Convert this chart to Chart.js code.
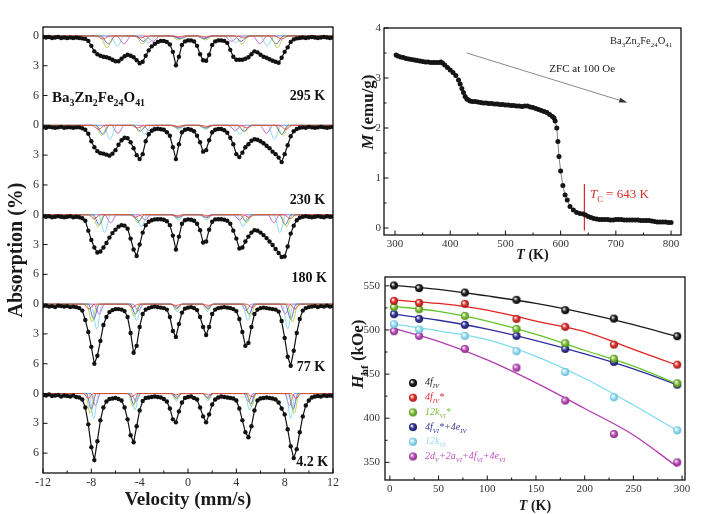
<!DOCTYPE html>
<html><head><meta charset="utf-8"><title>Ba3Zn2Fe24O41</title>
<script src="https://cdn.jsdelivr.net/npm/chart.js@4.4.1/dist/chart.umd.min.js"></script>
<style>
html,body{margin:0;padding:0;background:#fff;}
#wrap{position:relative;width:713px;height:514px;overflow:hidden;background:#fff}
canvas{position:absolute;}
</style></head><body>
<div id="wrap">
<canvas id="spec" width="345" height="514" style="left:0;top:0"></canvas>
<canvas id="mag" width="368" height="262" style="left:345px;top:0"></canvas>
<canvas id="hf" width="368" height="252" style="left:345px;top:262px"></canvas>
</div>
<script>
// ---------------- DATA ----------------
// Mössbauer spectra (absorption %)
const velocity = [-12,-11.75,-11.5,-11.25,-11,-10.75,-10.5,-10.25,-10,-9.75,-9.5,-9.25,-9,-8.75,-8.5,-8.25,-8,-7.75,-7.5,-7.25,-7,-6.75,-6.5,-6.25,-6,-5.75,-5.5,-5.25,-5,-4.75,-4.5,-4.25,-4,-3.75,-3.5,-3.25,-3,-2.75,-2.5,-2.25,-2,-1.75,-1.5,-1.25,-1,-0.75,-0.5,-0.25,0,0.25,0.5,0.75,1,1.25,1.5,1.75,2,2.25,2.5,2.75,3,3.25,3.5,3.75,4,4.25,4.5,4.75,5,5.25,5.5,5.75,6,6.25,6.5,6.75,7,7.25,7.5,7.75,8,8.25,8.5,8.75,9,9.25,9.5,9.75,10,10.25,10.5,10.75,11,11.25,11.5,11.75,12];
const abs295 = [0.10,0.15,0.10,0.20,0.15,0.10,0.20,0.15,0.20,0.15,0.20,0.15,0.20,0.25,0.30,0.50,1.00,1.55,1.85,2.00,2.10,2.15,2.25,2.40,2.55,2.55,2.30,2.05,1.90,2.00,2.15,2.45,2.75,2.60,2.00,1.45,1.05,0.80,0.60,0.50,0.50,0.60,0.85,1.60,2.95,2.10,0.90,0.55,0.45,0.45,0.55,1.00,1.85,2.45,2.50,1.90,0.90,0.55,0.45,0.45,0.50,0.70,1.40,2.10,2.40,2.40,2.40,2.30,2.15,1.85,1.55,1.65,1.90,2.10,2.20,2.35,2.50,2.60,2.70,2.20,1.60,1.15,0.60,0.35,0.25,0.20,0.15,0.20,0.15,0.10,0.15,0.20,0.15,0.10,0.15,0.20,0.15];
const abs230 = [0.20,0.25,0.15,0.20,0.25,0.20,0.15,0.25,0.20,0.20,0.25,0.20,0.20,0.30,0.45,0.85,1.60,2.20,2.60,2.80,2.85,2.95,3.05,2.85,2.50,1.95,1.50,1.25,1.30,1.70,2.30,3.00,3.40,2.90,1.60,0.90,0.55,0.40,0.35,0.40,0.45,0.70,1.05,2.20,3.40,1.90,0.70,0.45,0.37,0.45,0.60,1.05,1.70,2.65,2.50,1.50,0.70,0.45,0.37,0.37,0.50,0.75,1.25,1.90,2.90,3.20,2.75,2.20,1.90,1.55,1.40,1.45,1.60,1.80,2.05,2.30,2.65,2.90,3.25,3.70,2.90,2.00,1.10,0.60,0.37,0.25,0.20,0.25,0.15,0.20,0.25,0.20,0.15,0.20,0.25,0.20,0.15];
const abs180 = [0.15,0.20,0.15,0.25,0.20,0.15,0.20,0.25,0.20,0.15,0.25,0.20,0.25,0.35,0.60,1.60,2.55,3.30,3.80,3.70,3.30,2.85,2.30,1.85,1.50,1.20,1.05,1.10,1.40,2.40,3.50,4.15,3.00,1.80,1.05,0.70,0.55,0.47,0.45,0.45,0.50,0.65,1.05,2.10,3.50,2.20,0.90,0.55,0.47,0.50,0.60,0.90,1.55,2.80,2.70,1.50,0.70,0.47,0.45,0.45,0.50,0.60,0.90,1.60,2.40,3.40,3.30,2.70,2.20,1.80,1.55,1.60,1.80,2.05,2.35,2.70,3.05,3.45,3.85,4.25,4.20,3.20,1.90,1.10,0.55,0.30,0.20,0.15,0.20,0.25,0.20,0.15,0.20,0.25,0.15,0.20,0.20];
const abs77 = [0.20,0.15,0.25,0.20,0.30,0.15,0.20,0.25,0.20,0.30,0.25,0.30,0.40,0.65,1.60,2.80,4.30,6.00,5.20,3.70,2.10,1.30,0.80,0.60,0.50,0.50,0.55,0.70,1.30,2.90,4.90,4.20,2.30,1.00,0.55,0.40,0.30,0.25,0.30,0.35,0.40,0.55,1.30,2.70,3.30,2.00,0.85,0.45,0.35,0.30,0.40,0.60,1.30,2.30,3.10,2.30,1.00,0.55,0.40,0.35,0.30,0.35,0.40,0.50,0.70,1.50,2.80,4.20,3.90,2.30,1.00,0.55,0.40,0.35,0.40,0.45,0.50,0.55,0.75,1.70,3.40,5.30,6.20,4.70,2.90,1.50,0.65,0.40,0.30,0.25,0.20,0.30,0.20,0.25,0.15,0.25,0.20];
const abs4K = [0.15,0.20,0.10,0.25,0.20,0.15,0.30,0.20,0.25,0.30,0.20,0.35,0.40,0.60,1.40,3.10,5.40,6.70,4.80,2.70,1.40,0.80,0.55,0.50,0.45,0.55,0.70,1.40,2.60,4.20,4.90,3.30,1.70,0.75,0.45,0.40,0.35,0.30,0.35,0.40,0.55,0.80,1.50,2.60,2.90,1.80,0.90,0.45,0.35,0.30,0.45,0.60,1.40,2.30,2.90,2.10,1.10,0.60,0.40,0.30,0.35,0.40,0.45,0.50,0.70,1.50,2.70,3.90,4.40,3.30,1.70,0.70,0.50,0.45,0.40,0.45,0.50,0.60,0.90,1.50,2.10,3.60,5.30,6.50,5.60,3.90,2.30,1.20,0.70,0.40,0.30,0.25,0.30,0.20,0.25,0.20,0.25];
const spectraLabels = ['295 K','230 K','180 K','77 K','4.2 K'];

// Fitted sub-spectra: line centres (mm/s) and depths (%) for
// 4f_IV*, 12k_VI*, 4f_VI*+4e_IV, 12k_VI, 2d_V+2a_VI+4f_VI+4e_VI
const centers295 = [[-7.05,-3.95,-0.85,1.55,4.65,7.75],[-6.7,-3.75,-0.8,1.45,4.45,7.4],[-6.6,-3.7,-0.75,1.4,4.4,7.3],[-5.85,-3.25,-0.65,1.35,3.95,6.55],[-5.3,-2.9,-0.55,1.25,3.6,5.95]];
const depths295  = [[0.3,0.2,0.1,0.1,0.2,0.3],[1.2,0.8,0.4,0.4,0.8,1.2],[0.8,0.55,0.25,0.25,0.55,0.8],[1.0,0.7,0.3,0.3,0.7,1.0],[0.8,0.55,0.25,0.25,0.55,0.8]];
const centers230 = [[-7.4,-4.15,-0.9,1.6,4.85,8.1],[-7.15,-4.0,-0.85,1.55,4.7,7.85],[-7.05,-3.95,-0.85,1.5,4.65,7.75],[-6.45,-3.6,-0.75,1.45,4.3,7.15],[-5.8,-3.2,-0.65,1.35,3.9,6.5]];
const depths230  = [[0.4,0.26,0.12,0.12,0.26,0.4],[1.0,0.65,0.3,0.3,0.65,1.0],[0.9,0.6,0.27,0.27,0.6,0.9],[1.4,0.9,0.42,0.42,0.9,1.4],[0.8,0.52,0.24,0.24,0.52,0.8]];
const centers180 = [[-7.75,-4.35,-0.95,1.65,5.05,8.45],[-7.45,-4.15,-0.9,1.6,4.85,8.15],[-7.35,-4.1,-0.85,1.55,4.8,8.05],[-6.9,-3.85,-0.8,1.5,4.55,7.6],[-6.4,-3.55,-0.7,1.4,4.25,7.1]];
const depths180  = [[0.4,0.26,0.12,0.12,0.26,0.4],[1.2,0.8,0.36,0.36,0.8,1.2],[1.0,0.65,0.3,0.3,0.65,1.0],[1.8,1.2,0.55,0.55,1.2,1.8],[0.8,0.52,0.24,0.24,0.52,0.8]];
const centers77  = [[-8.2,-4.6,-1.0,1.7,5.3,8.85],[-7.95,-4.45,-0.95,1.65,5.15,8.65],[-7.8,-4.35,-0.95,1.65,5.05,8.5],[-7.55,-4.25,-0.9,1.6,4.95,8.25],[-7.35,-4.1,-0.9,1.6,4.8,8.05]];
const depths77   = [[0.5,0.33,0.15,0.15,0.33,0.5],[1.8,1.2,0.55,0.55,1.2,1.8],[1.5,1.0,0.45,0.45,1.0,1.5],[2.5,1.65,0.75,0.75,1.65,2.5],[1.0,0.65,0.3,0.3,0.65,1.0]];
const centers4K  = [[-8.25,-4.65,-1.0,1.7,5.3,8.95],[-8.1,-4.55,-1.0,1.7,5.25,8.8],[-8.0,-4.5,-0.95,1.65,5.2,8.7],[-7.8,-4.4,-0.95,1.65,5.1,8.5],[-7.65,-4.3,-0.9,1.6,5.0,8.4]];
const depths4K   = [[0.5,0.33,0.15,0.15,0.33,0.5],[2.0,1.3,0.6,0.6,1.3,2.0],[1.6,1.05,0.5,0.5,1.05,1.6],[2.5,1.65,0.75,0.75,1.65,2.5],[1.2,0.8,0.36,0.36,0.8,1.2]];
const lineHalfWidth = [0.6,0.55,0.5,0.45,0.4];

const velocityTicks = [-12,-8,-4,0,4,8,12];
const velocityTickLabels = ['-12','-8','-4','0','4','8','12'];
const velocityMinor = [-10,-6,-2,2,6,10];
const absTickValues = [0,3,6,9,12,15,18,21,24,27,30,33,36,39,42];
const absTickLabels = ['0','3','6','0','3','6','0','3','6','0','3','6','0','3','6'];

// ZFC magnetisation M(T)
const magT = [302,305,310,315,320,325,330,335,340,345,350,355,360,365,370,375,380,383,386,390,395,400,405,410,415,418,421,424,427,430,433,436,440,445,450,455,460,465,470,475,480,485,490,495,500,505,510,515,520,525,530,535,540,545,550,555,560,565,570,575,580,585,588,590,593,595,597,600,604,608,612,617,623,629,635,641,645,650,655,660,665,670,675,680,685,690,695,700,705,710,715,720,725,730,735,740,745,750,755,760,765,770,775,780,785,790,795,800];
const magM = [3.46,3.44,3.42,3.41,3.39,3.38,3.37,3.36,3.35,3.34,3.33,3.32,3.32,3.31,3.31,3.31,3.31,3.32,3.30,3.26,3.21,3.16,3.11,3.05,2.96,2.88,2.79,2.71,2.63,2.58,2.56,2.54,2.53,2.53,2.52,2.51,2.50,2.50,2.49,2.49,2.48,2.48,2.47,2.47,2.46,2.46,2.45,2.45,2.44,2.44,2.43,2.44,2.44,2.42,2.41,2.39,2.37,2.35,2.33,2.31,2.27,2.23,2.20,2.14,2.00,1.73,1.43,1.14,0.85,0.66,0.56,0.43,0.36,0.31,0.29,0.28,0.26,0.23,0.21,0.19,0.18,0.17,0.17,0.17,0.17,0.16,0.16,0.17,0.17,0.17,0.16,0.16,0.16,0.16,0.16,0.16,0.15,0.15,0.15,0.15,0.14,0.13,0.12,0.12,0.12,0.12,0.11,0.11];
const curieT = 643;
const magTicksT = [300,400,500,600,700,800];
const magMinorT = [350,450,550,650,750];
const magTicksM = [0,1,2,3,4];
const magMinorM = [0.5,1.5,2.5,3.5];

// Hyperfine fields H_hf(T)
const hfT = [4.2,30,77,130,180,230,295];
const hf4fIV     = [550.4,547.4,542.4,534.1,522.4,512.9,492.9];
const hf4fIVs    = [533.0,530.7,529.6,512.6,503.5,483.4,460.7];
const hf12kVIs   = [525.8,523.5,516.0,501.2,485.0,467.5,439.6];
const hf4fVIs4e  = [517.9,512.6,505.8,493.3,478.5,463.8,438.0];
const hf12kVI    = [506.5,500.4,493.3,476.0,452.5,423.8,386.3];
const hfMixed    = [498.6,493.3,478.5,457.3,420.0,382.1,350.0];
const fitT = [3,50,100,150,200,250,295];
const fit4fIV    = [550.5,546,538.5,530,519,506,492.5];
const fit4fIVs   = [534,530,522.5,510,498,478,460];
const fit12kVIs  = [527,521,510,495,477,459,439];
const fit4fVIs4e = [518,511,501,488,473,456,438];
const fit12kVI   = [507,499,489,470,445,415,386];
const fitMixed   = [502,487,466,440,411,381,345];
const hfTicksT = [0,50,100,150,200,250,300];
const hfMinorT = [25,75,125,175,225,275];
const hfTicksH = [350,400,450,500,550];
const hfMinorH = [375,425,475,525];

// ---------------- STYLE / HELPERS ----------------
const FONT = "'Liberation Serif','Times New Roman',Times,serif";
Chart.defaults.font.family = FONT;
Chart.defaults.color = '#333';

function drawRich(ctx, segs, x, y, o) {
  ctx.save();
  ctx.translate(x, y);
  if (o.rotate) ctx.rotate(o.rotate);
  const fontOf = s => `${s.i ? 'italic ' : ''}${o.weight || 'normal'} ${s.s ? o.size * 0.66 : o.size}px ${FONT}`;
  let w = 0;
  for (const s of segs) { ctx.font = fontOf(s); w += ctx.measureText(s.t).width; }
  let cx = o.align === 'center' ? -w / 2 : (o.align === 'right' ? -w : 0);
  ctx.fillStyle = o.color || '#111';
  ctx.textBaseline = 'alphabetic';
  const base = o.size * 0.34;
  for (const s of segs) {
    ctx.font = fontOf(s);
    ctx.fillText(s.t, cx, base + (s.s ? o.size * 0.3 : 0));
    cx += ctx.measureText(s.t).width;
  }
  ctx.restore();
}
function frameAndTicks(ctx, a, xs, ys, xMaj, xMin, yMaj, yMin) {
  ctx.save();
  ctx.strokeStyle = '#111';
  ctx.lineWidth = 1;
  ctx.beginPath();
  xMaj.forEach(v => { const p = xs.getPixelForValue(v); ctx.moveTo(p, a.bottom); ctx.lineTo(p, a.bottom - 4.5); });
  xMin.forEach(v => { const p = xs.getPixelForValue(v); ctx.moveTo(p, a.bottom); ctx.lineTo(p, a.bottom - 2.5); });
  yMaj.forEach(v => { const p = ys.getPixelForValue(v); ctx.moveTo(a.left, p); ctx.lineTo(a.left + 4.5, p); });
  yMin.forEach(v => { const p = ys.getPixelForValue(v); ctx.moveTo(a.left, p); ctx.lineTo(a.left + 2.5, p); });
  ctx.stroke();
  ctx.lineWidth = 1.3;
  ctx.strokeRect(a.left, a.top, a.right - a.left, a.bottom - a.top);
  ctx.restore();
}
function sphere(color, edge, r) {
  const s = Math.ceil(2 * r + 2);
  const c = document.createElement('canvas'); c.width = s; c.height = s;
  const g = c.getContext('2d');
  const m = s / 2;
  const grd = g.createRadialGradient(m - r * 0.35, m - r * 0.35, r * 0.1, m, m, r);
  grd.addColorStop(0, '#ffffff');
  grd.addColorStop(0.45, color);
  grd.addColorStop(1, edge);
  g.fillStyle = grd; g.beginPath(); g.arc(m, m, r, 0, Math.PI * 2); g.fill();
  return c;
}
const baseOpts = { responsive: false, animation: false, events: [], devicePixelRatio: 1,
  plugins: { legend: { display: false }, tooltip: { enabled: false } } };

// ---------------- LEFT: Mössbauer spectra ----------------
const spectra = [abs295, abs230, abs180, abs77, abs4K];
const compCenters = [centers295, centers230, centers180, centers77, centers4K];
const compDepths = [depths295, depths230, depths180, depths77, depths4K];
const compColors = ['#e8322e', '#a8c830', '#3a4fd0', '#6fd3ea', '#c23ec0'];
const stackOffset = [0, 9, 18, 27, 36];
const labelAt = [[11.34, 5.95], [11.34, 16.4], [11.5, 24.3], [11.34, 33.3], [11.6, 42.8]];

function componentPoints(centers, depths, hw, off) {
  const pts = [{ x: -12, y: off }];
  centers.forEach((c, j) => { pts.push({ x: c - hw, y: off }, { x: c, y: off + depths[j] }, { x: c + hw, y: off }); });
  pts.push({ x: 12, y: off });
  return pts;
}
const specSets = [];
spectra.forEach((vals, k) => specSets.push({
  data: velocity.map((v, i) => ({ x: v, y: stackOffset[k] + vals[i] })),
  showLine: true, borderColor: '#111', borderWidth: 1.2, pointRadius: 2.2,
  pointBackgroundColor: '#111', pointBorderWidth: 0
}));
compCenters.forEach((set, k) => set.forEach((cs, c) => specSets.push({
  data: componentPoints(cs, compDepths[k][c], lineHalfWidth[k], stackOffset[k]),
  showLine: true, borderColor: compColors[c], borderWidth: 0.8, pointRadius: 0,
  cubicInterpolationMode: 'monotone'
})));

const specDecor = { id: 'specDecor', afterDraw(chart) {
  const { ctx, chartArea: a, scales: { x, y } } = chart;
  frameAndTicks(ctx, a, x, y, velocityTicks, velocityMinor, absTickValues, []);
  spectraLabels.forEach((lab, k) => drawRich(ctx, [{ t: lab }], x.getPixelForValue(labelAt[k][0]), y.getPixelForValue(labelAt[k][1]), { size: 14, weight: 'bold', align: 'right', color: '#111' }));
  drawRich(ctx, [{ t: 'Ba' }, { t: '3', s: 1 }, { t: 'Zn' }, { t: '2', s: 1 }, { t: 'Fe' }, { t: '24', s: 1 }, { t: 'O' }, { t: '41', s: 1 }],
    x.getPixelForValue(-11.25), y.getPixelForValue(6.1), { size: 15, weight: 'bold', align: 'left', color: '#111' });
} };

new Chart(document.getElementById('spec'), {
  type: 'scatter',
  data: { datasets: specSets },
  options: Object.assign({}, baseOpts, {
    layout: { padding: { left: 0, right: 12, top: 27, bottom: 0 } },
    scales: {
      x: { type: 'linear', min: -12, max: 12,
        grid: { display: false, drawTicks: false }, border: { display: false },
        afterBuildTicks: s => { s.ticks = velocityTicks.map(v => ({ value: v })); },
        afterFit: s => { s.height = 41; },
        ticks: { font: { size: 12 }, color: '#333', padding: 3, maxRotation: 0, autoSkip: false, callback: (v, i) => velocityTickLabels[i] },
        title: { display: true, text: 'Velocity (mm/s)', color: '#1a1a1a', font: { size: 19, weight: 'bold' }, padding: { top: 0, bottom: 3 } } },
      y: { type: 'linear', reverse: true, min: -0.9, max: 44,
        grid: { display: false, drawTicks: false }, border: { display: false },
        afterBuildTicks: s => { s.ticks = absTickValues.map(v => ({ value: v })); },
        afterFit: s => { s.width = 43; },
        ticks: { font: { size: 12 }, color: '#333', padding: 4, autoSkip: false, callback: (v, i) => absTickLabels[i] },
        title: { display: true, text: 'Absorption (%)', color: '#1a1a1a', font: { size: 20, weight: 'bold' }, padding: { top: 5, bottom: 0 } } }
    }
  }),
  plugins: [specDecor]
});

// ---------------- RIGHT TOP: M(T) ----------------
const magDecor = { id: 'magDecor', afterDraw(chart) {
  const { ctx, chartArea: a, scales: { x, y } } = chart;
  frameAndTicks(ctx, a, x, y, magTicksT, magMinorT, magTicksM, magMinorM);
  // arrow
  const x1 = x.getPixelForValue(430), y1 = y.getPixelForValue(3.5);
  const x2 = x.getPixelForValue(717), y2 = y.getPixelForValue(2.52);
  ctx.save();
  ctx.strokeStyle = '#8a8a8a'; ctx.fillStyle = '#333'; ctx.lineWidth = 1;
  ctx.beginPath(); ctx.moveTo(x1, y1); ctx.lineTo(x2, y2); ctx.stroke();
  const ang = Math.atan2(y2 - y1, x2 - x1);
  ctx.beginPath(); ctx.moveTo(x2 + 2, y2 + 2 * Math.tan(ang));
  ctx.lineTo(x2 - 6 * Math.cos(ang) + 2.5 * Math.sin(ang), y2 - 6 * Math.sin(ang) - 2.5 * Math.cos(ang));
  ctx.lineTo(x2 - 6 * Math.cos(ang) - 2.5 * Math.sin(ang), y2 - 6 * Math.sin(ang) + 2.5 * Math.cos(ang));
  ctx.closePath(); ctx.fill();
  ctx.restore();
  drawRich(ctx, [{ t: 'Ba' }, { t: '3', s: 1 }, { t: 'Zn' }, { t: '2', s: 1 }, { t: 'Fe' }, { t: '24', s: 1 }, { t: 'O' }, { t: '41', s: 1 }],
    x.getPixelForValue(802), y.getPixelForValue(3.76), { size: 10.5, align: 'right', color: '#222' });
  drawRich(ctx, [{ t: 'ZFC at 100 Oe' }], x.getPixelForValue(639), y.getPixelForValue(3.2), { size: 11, align: 'center', color: '#222' });
  drawRich(ctx, [{ t: 'T', i: 1 }, { t: 'C', s: 1 }, { t: ' = 643 K' }], x.getPixelForValue(653), y.getPixelForValue(0.68), { size: 13, align: 'left', color: '#d42a2a' });
  drawRich(ctx, [{ t: 'M', i: 1 }, { t: ' (emu/g)' }], 22, 112, { size: 17, weight: 'bold', align: 'center', rotate: -Math.PI / 2, color: '#1a1a1a' });
  drawRich(ctx, [{ t: 'T', i: 1 }, { t: ' (K)' }], (a.left + a.right) / 2, 254, { size: 14, weight: 'bold', align: 'center', color: '#1a1a1a' });
} };

new Chart(document.getElementById('mag'), {
  type: 'scatter',
  data: { datasets: [
    { data: magT.map((t, i) => ({ x: t, y: magM[i] })), showLine: true, borderColor: '#666', borderWidth: 0.8,
      pointRadius: 2.5, pointBackgroundColor: '#151515', pointBorderWidth: 0 },
    { data: [{ x: curieT, y: -0.05 }, { x: curieT, y: 0.88 }], showLine: true, borderColor: '#d42a2a', borderWidth: 1.2, pointRadius: 0 }
  ] },
  options: Object.assign({}, baseOpts, {
    layout: { padding: { left: 0, right: 32, top: 28, bottom: 0 } },
    scales: {
      x: { type: 'linear', min: 280, max: 818,
        grid: { display: false, drawTicks: false }, border: { display: false },
        afterBuildTicks: s => { s.ticks = magTicksT.map(v => ({ value: v })); },
        afterFit: s => { s.height = 27; },
        ticks: { font: { size: 11 }, color: '#333', padding: 3, maxRotation: 0, autoSkip: false, callback: (v, i) => String(magTicksT[i]) } },
      y: { type: 'linear', min: -0.14, max: 4.0,
        grid: { display: false, drawTicks: false }, border: { display: false },
        afterBuildTicks: s => { s.ticks = magTicksM.map(v => ({ value: v })); },
        afterFit: s => { s.width = 39; },
        ticks: { font: { size: 11 }, color: '#333', padding: 3, autoSkip: false, callback: (v, i) => String(magTicksM[i]) } }
    }
  }),
  plugins: [magDecor]
});

// ---------------- RIGHT BOTTOM: H_hf(T) ----------------
const hfSeries = [hf4fIV, hf4fIVs, hf12kVIs, hf4fVIs4e, hf12kVI, hfMixed];
const hfFits = [fit4fIV, fit4fIVs, fit12kVIs, fit4fVIs4e, fit12kVI, fitMixed];
const hfSiteLabels = [
  [{ t: '4f', i: 1 }, { t: 'IV', i: 1, s: 1 }],
  [{ t: '4f', i: 1 }, { t: 'IV', i: 1, s: 1 }, { t: '*', i: 1 }],
  [{ t: '12k', i: 1 }, { t: 'VI', i: 1, s: 1 }, { t: '*', i: 1 }],
  [{ t: '4f', i: 1 }, { t: 'VI', i: 1, s: 1 }, { t: '*+4e', i: 1 }, { t: 'IV', i: 1, s: 1 }],
  [{ t: '12k', i: 1 }, { t: 'VI', i: 1, s: 1 }],
  [{ t: '2d', i: 1 }, { t: 'V', i: 1, s: 1 }, { t: '+2a', i: 1 }, { t: 'VI', i: 1, s: 1 }, { t: '+4f', i: 1 }, { t: 'VI', i: 1, s: 1 }, { t: '+4e', i: 1 }, { t: 'VI', i: 1, s: 1 }]
];
const hfDot = ['#2a2a2a', '#e83a36', '#86c63e', '#3c3ca6', '#a6e2f4', '#c656c4'];
const hfEdge = ['#000000', '#9a1410', '#4a8a18', '#16165e', '#5cb6d4', '#822a80'];
const hfLine = ['#1a1a1a', '#e02222', '#62c42a', '#2e2e9c', '#7fdcef', '#b23cb0'];
const hfText = ['#222222', '#e03030', '#78c038', '#3a3a96', '#9cd8ee', '#c050c0'];
const hfSpheres = hfDot.map((c, k) => sphere(c, hfEdge[k], 4));

const hfSets = [];
hfSeries.forEach((vals, k) => hfSets.push({
  data: hfT.map((t, i) => ({ x: t, y: vals[i] })), showLine: false, pointStyle: hfSpheres[k], pointRadius: 4
}));
hfFits.forEach((vals, k) => hfSets.push({
  data: fitT.map((t, i) => ({ x: t, y: vals[i] })), showLine: true, borderColor: hfLine[k], borderWidth: 1.3,
  pointRadius: 0, cubicInterpolationMode: 'monotone'
}));

const hfDecor = { id: 'hfDecor', afterDraw(chart) {
  const { ctx, chartArea: a, scales: { x, y } } = chart;
  frameAndTicks(ctx, a, x, y, hfTicksT, hfMinorT, hfTicksH, hfMinorH);
  hfSiteLabels.forEach((segs, k) => {
    const mx = a.left + 28, my = a.top + 106 + k * 14.7;
    const sp = hfSpheres[k];
    ctx.drawImage(sp, mx - sp.width / 2, my - sp.height / 2);
    drawRich(ctx, segs, mx + 12, my - 1, { size: 10, align: 'left', color: hfText[k] });
  });
  drawRich(ctx, [{ t: 'H', i: 1 }, { t: 'hf', s: 1 }, { t: ' (kOe)' }], 12, 92, { size: 17, weight: 'bold', align: 'center', rotate: -Math.PI / 2, color: '#1a1a1a' });
  drawRich(ctx, [{ t: 'T', i: 1 }, { t: ' (K)' }], (a.left + a.right) / 2, 243, { size: 14, weight: 'bold', align: 'center', color: '#1a1a1a' });
} };

new Chart(document.getElementById('hf'), {
  type: 'scatter',
  data: { datasets: hfSets },
  options: Object.assign({}, baseOpts, {
    layout: { padding: { left: 0, right: 28, top: 15, bottom: 0 } },
    scales: {
      x: { type: 'linear', min: -5, max: 303,
        grid: { display: false, drawTicks: false }, border: { display: false },
        afterBuildTicks: s => { s.ticks = hfTicksT.map(v => ({ value: v })); },
        afterFit: s => { s.height = 34; },
        ticks: { font: { size: 11 }, color: '#333', padding: 3, maxRotation: 0, autoSkip: false, callback: (v, i) => String(hfTicksT[i]) } },
      y: { type: 'linear', min: 330, max: 560,
        grid: { display: false, drawTicks: false }, border: { display: false },
        afterBuildTicks: s => { s.ticks = hfTicksH.map(v => ({ value: v })); },
        afterFit: s => { s.width = 40; },
        ticks: { font: { size: 11 }, color: '#333', padding: 5, autoSkip: false, callback: (v, i) => String(hfTicksH[i]) } }
    }
  }),
  plugins: [hfDecor]
});
</script>
</body></html>
